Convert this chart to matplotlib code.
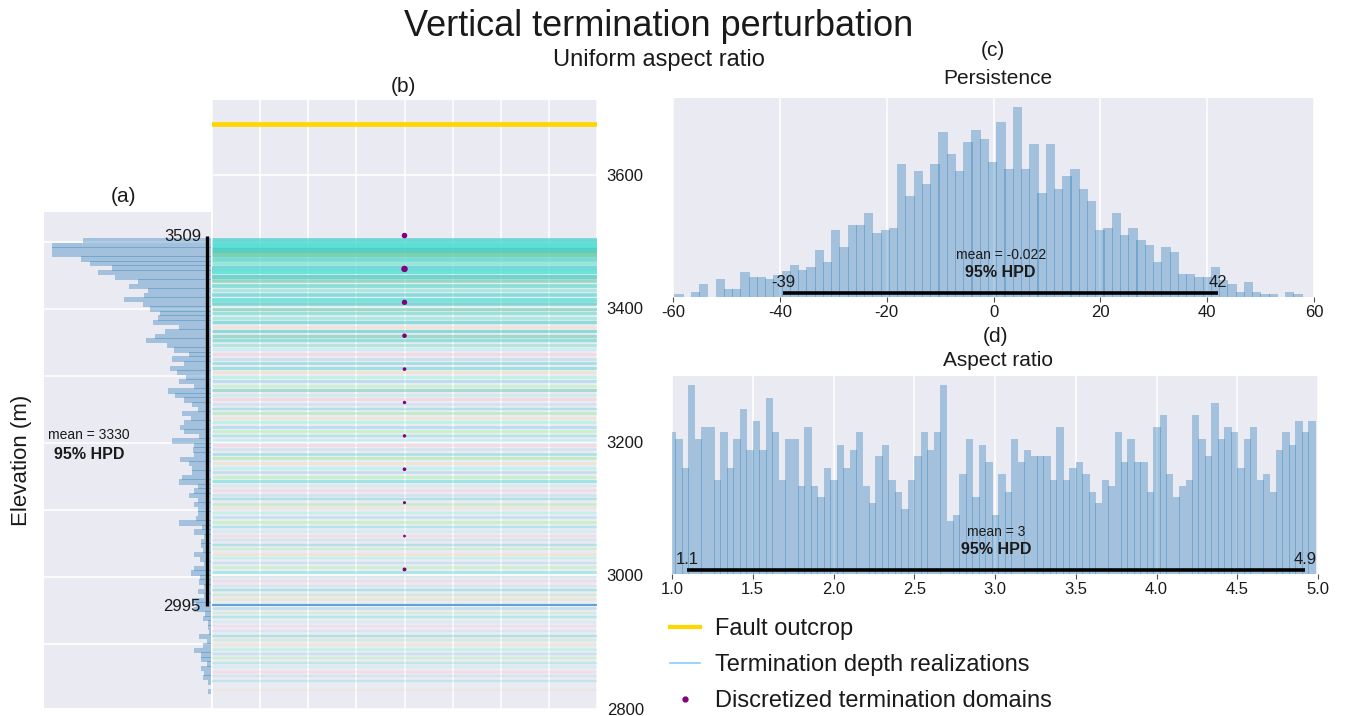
import numpy as np
import matplotlib
matplotlib.use('Agg')
import matplotlib.pyplot as plt
from matplotlib.lines import Line2D
from matplotlib.ticker import MultipleLocator, NullFormatter, FormatStrFormatter

# (a)/(b) termination elevation of the realizations, counts per bin from top to bottom
elev_bin_top = 3505.0
elev_bin_width = 6.8
elev_counts = [383, 476, 476, 476, 390, 362, 296, 338, 287, 218,
               245, 188, 200, 260, 203, 182, 152, 158, 173, 95,
               137, 167, 194, 131, 110, 65, 116, 80, 122, 101,
               74, 95, 50, 128, 107, 80, 56, 38, 86, 59,
               80, 92, 80, 35, 116, 50, 53, 50, 92, 65,
               56, 56, 86, 95, 38, 50, 65, 38, 50, 38,
               38, 44, 95, 26, 50, 20, 29, 29, 23, 50,
               32, 20, 50, 59, 32, 35, 20, 38, 20, 56,
               44, 50, 17, 23, 8, 8, 5, 35, 11, 23,
               50, 29, 29, 11, 29, 20, 23, 8, 0, 8]
elev_hpd = [2956, 3509]
elev_hpd_labels = ['2995', '3509']
elev_mean = 3330

fault_outcrop = 3676
domain_elev = [3509, 3459, 3409, 3359, 3309, 3259, 3209, 3159, 3109, 3059, 3009]
domain_weights = [16, 22, 15, 11, 7, 6, 6, 7, 5, 4, 8]

# (c) persistence
pers_bin_start = -59.75
pers_bin_width = 1.545
pers_counts = [8, 0, 14, 38, 0, 54, 23, 23, 74, 59,
               59, 54, 66, 77, 95, 81, 89, 140, 104, 200,
               149, 215, 215, 251, 191, 200, 206, 398, 303, 376,
               338, 398, 494, 428, 377, 464, 500, 472, 404, 524,
               383, 567, 383, 458, 311, 458, 323, 362, 383, 323,
               287, 200, 206, 251, 185, 206, 170, 155, 104, 149,
               134, 68, 68, 59, 59, 89, 50, 38, 14, 44,
               14, 8, 8, 0, 14, 8]
pers_hpd = [-39.4, 42.1]
pers_mean = -0.022

# (d) aspect ratio
ar_bin_start = 0.98
ar_bin_width = 0.04
ar_counts = [424, 405, 318, 565, 405, 441, 441, 283, 424, 318,
             405, 495, 372, 459, 372, 528, 424, 283, 405, 405,
             264, 441, 264, 231, 318, 283, 387, 318, 372, 424,
             264, 213, 354, 387, 283, 246, 195, 283, 354, 424,
             372, 424, 565, 159, 177, 300, 405, 231, 387, 336,
             177, 300, 246, 405, 336, 372, 354, 354, 354, 282,
             441, 282, 318, 336, 300, 246, 213, 282, 264, 424,
             336, 405, 336, 336, 246, 441, 477, 300, 231, 264,
             282, 477, 405, 354, 513, 405, 441, 424, 318, 405,
             441, 282, 300, 246, 372, 424, 387, 459, 424, 459]
ar_hpd = [1.095, 4.92]
ar_mean = 3

# style
plt.rcParams['font.family'] = ['Liberation Sans', 'DejaVu Sans']
plt.rcParams['axes.facecolor'] = '#EAEAF2'
plt.rcParams['axes.edgecolor'] = 'white'
plt.rcParams['grid.color'] = 'white'
plt.rcParams['grid.linewidth'] = 1.1
plt.rcParams['axes.axisbelow'] = True
plt.rcParams['text.color'] = '0.1'
plt.rcParams['xtick.color'] = '0.3'
plt.rcParams['ytick.color'] = '0.3'
plt.rcParams['xtick.labelcolor'] = '0.1'
plt.rcParams['ytick.labelcolor'] = '0.1'

W, H = 1345, 716
fig = plt.figure(figsize=(W / 100, H / 100), dpi=100)


def px_axes(l, t, r, b):
    return fig.add_axes([l / W, 1 - b / H, (r - l) / W, (b - t) / H])


def clean(ax):
    for s in ax.spines.values():
        s.set_visible(False)


hist_color = '#1f77b4'

# ---------- (a) elevation histogram ----------
ax_a = px_axes(44, 212, 211, 708)
clean(ax_a)
elev_counts = np.array(elev_counts)
elev_bottoms = elev_bin_top - (np.arange(len(elev_counts)) + 1) * elev_bin_width
ax_a.barh(elev_bottoms, elev_counts, height=elev_bin_width * 1.15, align='edge',
          color=hist_color, alpha=0.35, linewidth=0)
ax_a.set_xlim(elev_counts.max() * 1.05, 0)
ax_a.set_ylim(2804, 3545)
ax_a.yaxis.set_major_locator(MultipleLocator(100))
ax_a.grid(axis='y')
ax_a.grid(axis='x', visible=False)
ax_a.set_xticks([])
ax_a.yaxis.set_major_formatter(NullFormatter())
ax_a.tick_params(length=0)
tr_a = matplotlib.transforms.blended_transform_factory(ax_a.transAxes, ax_a.transData)
ax_a.plot([0.978, 0.978], elev_hpd, color='k', lw=2.4, transform=tr_a,
          solid_capstyle='butt')
for val, lab in zip(elev_hpd, elev_hpd_labels):
    ax_a.text(0.94, val, lab, transform=tr_a, ha='right', va='center', fontsize=12)
ax_a.text(0.268, 0.55, f'mean = {elev_mean}', transform=ax_a.transAxes,
          ha='center', va='center', fontsize=10)
ax_a.text(0.272, 0.512, '95% HPD', transform=ax_a.transAxes,
          ha='center', va='center', fontsize=11.5, fontweight='bold')

# ---------- (b) termination depth realizations ----------
ax_b = px_axes(212, 100, 597, 709)
clean(ax_b)
ax_b.set_xlim(-1, 1)
ax_b.set_ylim(2803, 3712)
ax_b.set_xticks(np.arange(-1, 1.01, 0.25))
ax_b.xaxis.set_major_formatter(NullFormatter())
ax_b.set_yticks([2800, 3000, 3200, 3400, 3600])
ax_b.yaxis.tick_right()
ax_b.tick_params(length=0)
ax_b.tick_params(axis='y', labelsize=12, pad=7)
ax_b.grid(True)

teal_cols = ['#48D1CC', '#40E0D0', '#3EC9C0', '#66CDAA', '#5AD8CC', '#7FE5D0']
pastel_cols = ['#7FFFD4', '#87CEEB', '#98FB98', '#40E0D0', '#AFEEEE',
               '#FFC0CB', '#ADD8E6', '#48D1CC', '#90EE90', '#F5DEB3']
cmax = elev_counts.max()
centers = elev_bottoms + elev_bin_width / 2
line_y, line_c, line_w = [], [], []
for i, (yc, c) in enumerate(zip(centers, elev_counts)):
    if c == 0:
        continue
    frac = c / cmax
    col = teal_cols[i % len(teal_cols)] if frac > 0.25 else pastel_cols[i % len(pastel_cols)]
    rgba = matplotlib.colors.to_rgba(col, 0.15 + 0.7 * frac ** 0.5)
    line_y.append(yc)
    line_c.append(rgba)
    line_w.append(1.6 + 2.2 * frac)
ax_b.hlines(line_y, -1, 1, colors=line_c, linewidths=line_w)
ax_b.axhline(elev_hpd[0], color='#5B9BD5', lw=1.3)
ax_b.axhline(fault_outcrop, color='#FFD700', lw=3.4)
ax_b.scatter(np.zeros(len(domain_elev)), domain_elev, s=np.array(domain_weights) * 1.0,
             color='#800080', zorder=5, linewidths=0)

# ---------- (c) and (d) posterior histograms ----------
def posterior(ax, start, width, counts, hpd, mean, xlim, xticks, fmt, lab_fmt):
    clean(ax)
    counts = np.array(counts)
    lefts = start + np.arange(len(counts)) * width
    ax.bar(lefts, counts, width=width * 1.13, align='edge', color=hist_color,
           alpha=0.35, linewidth=0)
    ax.set_xlim(*xlim)
    ax.set_ylim(0, counts.max() * 1.05)
    ax.set_xticks(xticks)
    ax.xaxis.set_major_formatter(FormatStrFormatter(fmt))
    ax.set_yticks([])
    ax.grid(axis='x')
    ax.tick_params(axis='x', length=3.5, width=0.8, labelsize=12, pad=2.5)
    tr = ax.get_xaxis_transform()
    ax.plot(hpd, [0.02, 0.02], color='k', lw=2.6, transform=tr, solid_capstyle='butt')
    for v in hpd:
        ax.text(v, 0.05, lab_fmt.format(v), transform=tr, ha='center', va='baseline',
                fontsize=12)
    mid = (hpd[0] + hpd[1]) / 2
    ax.text(mid, 0.21, f'mean = {mean}', transform=tr, ha='center', va='center', fontsize=10)
    ax.text(mid, 0.125, '95% HPD', transform=tr, ha='center', va='center',
            fontsize=11.5, fontweight='bold')


ax_c = px_axes(673, 98, 1314, 297)
posterior(ax_c, pers_bin_start, pers_bin_width, pers_counts, pers_hpd, pers_mean,
          (-60, 60), np.arange(-60, 61, 20), '%d', '{:.0f}')
ax_d = px_axes(672, 376, 1318, 574)
posterior(ax_d, ar_bin_start, ar_bin_width, ar_counts, ar_hpd, ar_mean,
          (1.0, 5.0), np.arange(1.0, 5.01, 0.5), '%.1f', '{:.1f}')

# ---------- titles and labels ----------
def ftext(x, y, s, **kw):
    fig.text(x / W, 1 - y / H, s, ha='center', va='center', **kw)


ftext(659, 27, 'Vertical termination perturbation', fontsize=26)
ftext(659, 60, 'Uniform aspect ratio', fontsize=17)
ftext(124, 196, '(a)', fontsize=15)
ftext(403, 86, '(b)', fontsize=15)
ftext(993, 50, '(c)', fontsize=15)
ftext(998, 79, 'Persistence', fontsize=15)
ftext(996, 337, '(d)', fontsize=15)
ftext(998, 360, 'Aspect ratio', fontsize=15)
ftext(22, 460, 'Elevation (m)', fontsize=16, rotation=90)

handles = [Line2D([], [], color='#FFD700', lw=3),
           Line2D([], [], color='#87CEFA', lw=1.2),
           Line2D([], [], color='#800080', marker='o', ls='none', markersize=3.5)]
labels = ['Fault outcrop', 'Termination depth realizations', 'Discretized termination domains']
fig.legend(handles, labels, loc='upper left', bbox_to_anchor=(670 / W, 1 - 618 / H),
           frameon=False, fontsize=17, borderpad=0, borderaxespad=0,
           handlelength=1.27, handletextpad=0.65, labelspacing=0.6)

fig.savefig('out.png', dpi=100)
